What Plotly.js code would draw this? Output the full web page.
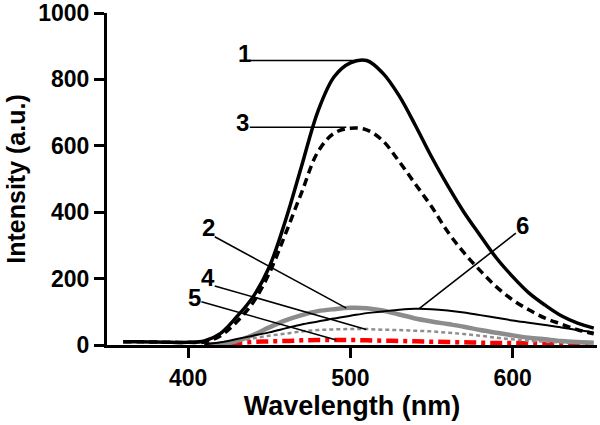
<!DOCTYPE html>
<html><head><meta charset="utf-8">
<script src="https://cdn.plot.ly/plotly-3.0.1.min.js"></script>
<style>html,body{margin:0;padding:0;background:#fff}#chart{width:600px;height:425px}</style>
</head><body><div id="chart"></div>
<script>
// Wavelength grids (nm)
const wlFull = [360,370,380,390,400,410,420,430,440,450,460,470,480,490,500,510,520,530,540,550,560,570,580,590,600,610,620,630,640,650];
const wlLow  = [410,420,430,440,450,460,470,480,490,500,510,520,530,540,550,560,570,580,590,600,610,620,630,640,650];

// Intensity series (a.u.)
const curve1 = [10,10,9,8,8,12,35,85,145,235,375,540,704,808,850,857,819,751,662,567,480,400,330,262,206,157,120,88,66,51];
const curve3 = [10,10,9,8,8,9,28,70,128,216,335,460,582,638,653,648,615,553,485,417,341,278,224,175,136,106,81,63,46,34];
const curve2 = [0,2,12,30,53,74,90,102,108,112,111,104,92,80,71,63,55,45,37,29,22,17,12,9,7];
const curve4 = [0,4,12,20,28,34,41,45,47,48,48,46,45,43,41,37,33,28,22,17,13,10,8,6,5];
const curve5 = [0,3,6,9,11,12,14,15,15,15,14,13,12,11,10,9,8,7,6,6,5,4,4,3,3];
const curve6 = [2,8,18,28,38,50,62,71,80,88,96,101,106,109,108,104,98,90,82,74,67,60,53,45,38];

const xTicks = [400,500,600];
const yTicks = [0,200,400,600,800,1000];

// Curve labels: [label, text x, text y, line start x, y, line end x, y] in data units
const labels = [
  ['1', 434.5, 879, 438, 857, 507.5, 857],
  ['3', 433.5, 671, 438, 656, 497.5, 656],
  ['2', 412.3, 353, 416.4, 326, 497.5, 111],
  ['4', 412.3, 202, 416.4, 178, 509.8, 47],
  ['5', 404.1, 142, 408.2, 130, 491.3, 15],
  ['6', 606, 359, 602, 337, 542.6, 110]
];

const FONT = 'Arial, "Liberation Sans", sans-serif';

const traces = [
  {x: wlLow, y: curve5, mode:'lines', line:{color:'#ff0000', width:4.5, dash:'12px,5px,4px,5px', shape:'spline'}},
  {x: wlLow, y: curve4, mode:'lines', line:{color:'#8f8f8f', width:2.5, dash:'4px,3px', shape:'spline'}},
  {x: wlLow, y: curve2, mode:'lines', line:{color:'#8c8c8c', width:4.5, shape:'spline'}},
  {x: wlLow, y: curve6, mode:'lines', line:{color:'#000000', width:2, shape:'spline'}},
  {x: wlFull, y: curve3, mode:'lines', line:{color:'#000000', width:3.5, dash:'8px,5px', shape:'spline'}},
  {x: wlFull, y: curve1, mode:'lines', line:{color:'#000000', width:3.5, shape:'spline'}}
];

const shapes = labels.map(l => ({type:'line', xref:'x', yref:'y', x0:l[3], y0:l[4], x1:l[5], y1:l[6], line:{color:'#000', width:1.6}}));
const annotations = labels.map(l => ({xref:'x', yref:'y', x:l[1], y:l[2], text:l[0], showarrow:false,
  font:{family:FONT, size:24, color:'#000', weight:'bold'}}));

const layout = {
  width:600, height:425,
  margin:{l:107, r:3, t:13, b:80},
  paper_bgcolor:'#fff', plot_bgcolor:'#fff',
  showlegend:false,
  font:{family:FONT, color:'#000'},
  xaxis:{range:[350,652], tickvals:xTicks, ticktext:xTicks.map(String), ticks:'outside', ticklen:10, tickwidth:3, tickcolor:'#000',
    showline:true, linewidth:3, linecolor:'#000', showgrid:false, zeroline:false,
    tickfont:{family:FONT, size:23, weight:'bold'},
    title:{text:'Wavelength (nm)', font:{family:FONT, size:27, weight:'bold'}, standoff:0}},
  yaxis:{range:[0,1000], tickvals:yTicks, ticktext:yTicks.map(String), ticks:'outside', ticklen:10, tickwidth:3, tickcolor:'#000',
    showline:true, linewidth:3, linecolor:'#000', showgrid:false, zeroline:false,
    tickfont:{family:FONT, size:23, weight:'bold'},
    title:{text:'Intensity (a.u.)', font:{family:FONT, size:25, weight:'bold'}, standoff:6}},
  shapes: shapes,
  annotations: annotations
};

Plotly.newPlot('chart', traces, layout, {staticPlot:true, displayModeBar:false});
</script></body></html>
